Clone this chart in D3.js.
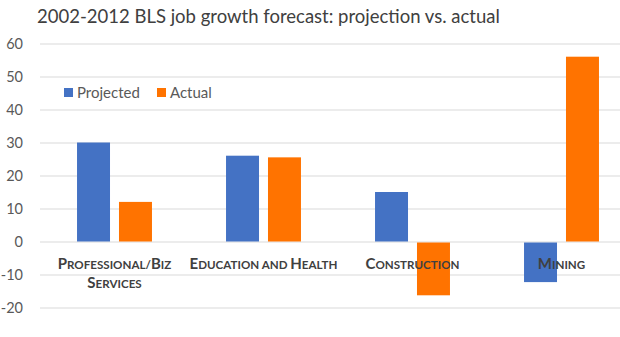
<!DOCTYPE html>
<html>
<head>
<meta charset="utf-8">
<script src="https://cdn.jsdelivr.net/npm/d3@7"></script>
<style>
  html, body { margin: 0; padding: 0; background: #fff; }
  svg { display: block; }
</style>
</head>
<body>
<svg id="chart" width="620" height="337"></svg>
<script>
const title = "2002-2012 BLS job growth forecast: projection vs. actual";
const categories = ["Professional/Biz Services", "Education and Health", "Construction", "Mining"];
const seriesNames = ["Projected", "Actual"];
const projected = [30, 26, 15, -12];
const actual = [12, 25.5, -16, 56];
const yTicks = [-20, -10, 0, 10, 20, 30, 40, 50, 60];
const colors = ["#4472C4", "#FF7300"];

const svg = d3.select("#chart");
const W = 620, H = 337;

const x0 = d3.scaleBand().domain(categories).range([40, 636]).paddingInner(0.497).paddingOuter(0.2485);
const x1 = d3.scaleBand().domain(seriesNames).range([0, x0.bandwidth()]).paddingInner(0.214).paddingOuter(0);
const y = d3.scaleLinear().domain([-20, 60]).range([307.5, 43.5]);

// Title
svg.append("text")
  .attr("x", 37).attr("y", 22.5)
  .attr("font-family", "Lato, 'Open Sans', sans-serif")
  .attr("font-size", 18.5)
  .attr("fill", "#404040")
  .text(title);

// Grid + y axis
const yAxis = d3.axisLeft(y).tickValues(yTicks).tickSize(-(W - 40)).tickPadding(17).tickFormat(d => String(d));
const gy = svg.append("g").attr("transform", "translate(40,0)").call(yAxis);
gy.select(".domain").remove();
gy.selectAll(".tick line").attr("stroke", "#d9d9d9").attr("stroke-width", 1);
gy.selectAll(".tick text")
  .attr("font-family", "Lato, 'Open Sans', sans-serif")
  .attr("font-size", 14.5)
  .attr("fill", "#595959");

// Bars
const data = categories.map((c, i) => ({ cat: c, values: [projected[i], actual[i]] }));
const groups = svg.append("g").selectAll("g").data(data).join("g")
  .attr("transform", d => `translate(${x0(d.cat)},0)`);
groups.selectAll("rect").data(d => d.values.map((v, j) => ({ key: seriesNames[j], v, j })))
  .join("rect")
  .attr("x", d => x1(d.key))
  .attr("width", x1.bandwidth())
  .attr("y", d => d.v >= 0 ? y(d.v) : y(0) + 1)
  .attr("height", d => Math.abs(y(d.v) - y(0)))
  .attr("fill", d => colors[d.j]);

// Category labels (small caps)
function smallCaps(textSel, str) {
  for (const ch of str) {
    const isUpper = ch !== ch.toLowerCase();
    textSel.append("tspan")
      .attr("font-size", isUpper ? 15 : 11.6)
      .text(ch.toUpperCase());
  }
}
const labelG = svg.append("g")
  .attr("font-family", "Lato, 'Open Sans', sans-serif")
  .attr("font-weight", "bold")
  .attr("fill", "#404040");
categories.forEach(c => {
  const cx = x0(c) + x0.bandwidth() / 2;
  let lines = [c];
  if (c.length > 20) {
    const k = c.lastIndexOf(" ");
    lines = [c.slice(0, k), c.slice(k + 1)];
  }
  lines.forEach((ln, li) => {
    const t = labelG.append("text")
      .attr("x", cx).attr("y", 269 + li * 19)
      .attr("text-anchor", "middle");
    smallCaps(t, ln);
  });
});

// Legend
const legend = svg.append("g")
  .attr("font-family", "Lato, 'Open Sans', sans-serif")
  .attr("font-size", 15)
  .attr("fill", "#595959");
const legendX = [64, 157];
seriesNames.forEach((s, i) => {
  legend.append("rect").attr("x", legendX[i]).attr("y", 88).attr("width", 9).attr("height", 9).attr("fill", colors[i]);
  legend.append("text").attr("x", legendX[i] + 13).attr("y", 98).text(s);
});
</script>
</body>
</html>
